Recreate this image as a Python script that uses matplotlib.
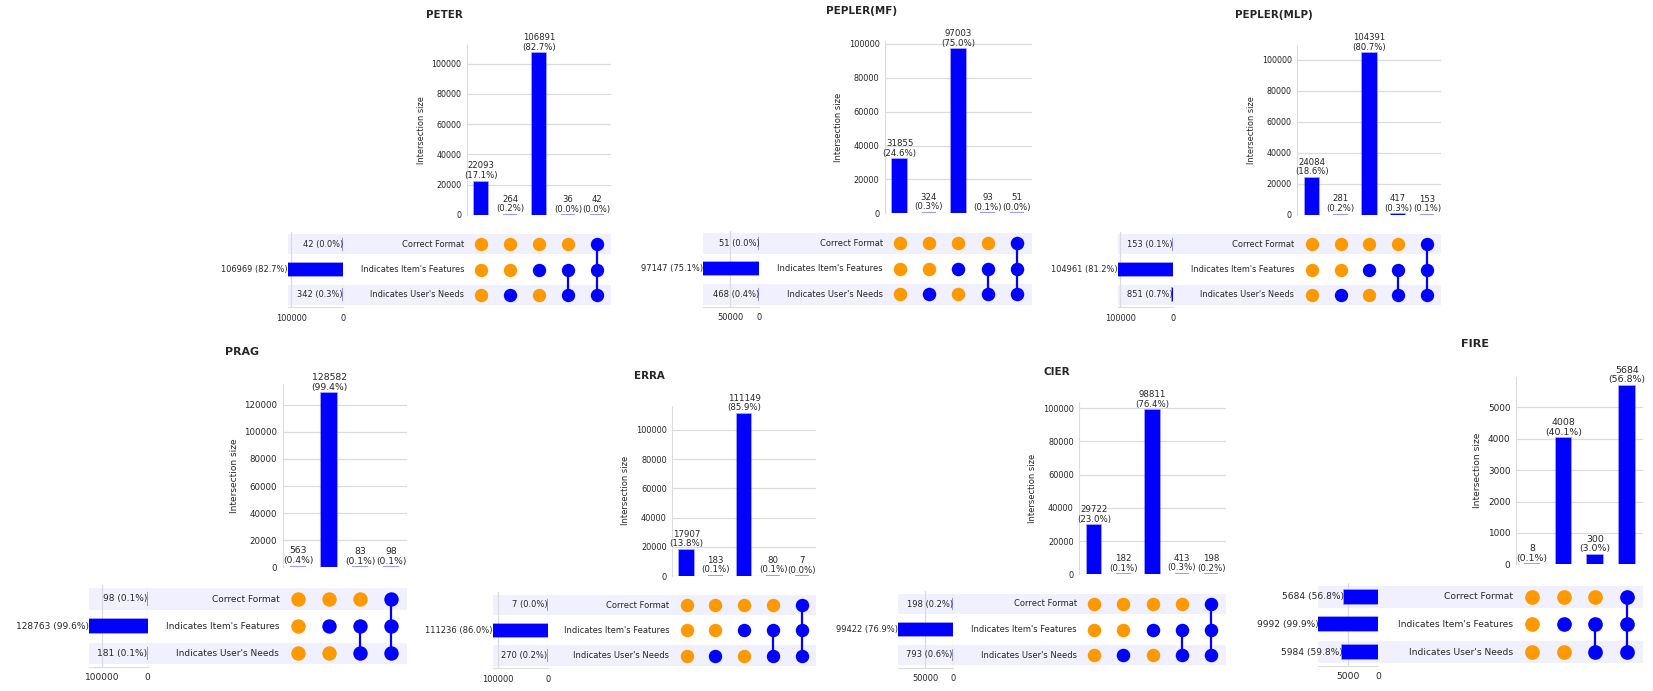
import numpy as np
import matplotlib
matplotlib.use("Agg")
import matplotlib.pyplot as plt
from matplotlib.patches import Rectangle
from matplotlib.transforms import blended_transform_factory

W, H = 1653, 691

set_names = ["Correct Format", "Indicates Item's Features", "Indicates User's Needs"]

# membership of each intersection column (Correct Format, Item's Features, User's Needs)
combos5 = [(0, 0, 0), (0, 0, 1), (0, 1, 0), (0, 1, 1), (1, 1, 1)]
combos4 = [(0, 0, 0), (0, 1, 0), (0, 1, 1), (1, 1, 1)]

models = ["PETER", "PEPLER(MF)", "PEPLER(MLP)", "PRAG", "ERRA", "CIER", "FIRE"]
peter = [22093, 264, 106891, 36, 42]
pepler_mf = [31855, 324, 97003, 93, 51]
pepler_mlp = [24084, 281, 104391, 417, 153]
prag = [563, 128582, 83, 98]
erra = [17907, 183, 111149, 80, 7]
cier = [29722, 182, 98811, 413, 198]
fire = [8, 4008, 300, 5684]
counts = [peter, pepler_mf, pepler_mlp, prag, erra, cier, fire]
combos = [combos5, combos5, combos5, combos4, combos5, combos5, combos4]

ystep = [20000, 20000, 20000, 20000, 20000, 20000, 1000]
total_ticks = [100000, 50000, 100000, 100000, 100000, 50000, 5000]

# pixel layout of each panel:
# bar-axis left, column step, y of zero, axis top, first row y, row step,
# totals left, totals right, label right, title x, title y
layout = [
    (466.7, 28.9, 215.0, 45.0, 244.3, 25.2, 287.7, 343.0, 464.0, 444.0, 15.0),
    (885.0, 29.3, 213.3, 40.7, 243.3, 25.5, 703.3, 759.3, 882.7, 861.7, 11.0),
    (1297.3, 28.8, 215.0, 45.0, 244.3, 25.2, 1117.7, 1172.7, 1294.0, 1274.0, 15.0),
    (282.7, 31.0, 567.3, 384.4, 599.0, 27.2, 89.0, 147.7, 279.3, 242.3, 352.3),
    (672.3, 28.8, 576.0, 405.6, 605.0, 25.3, 492.7, 547.7, 669.3, 649.3, 376.0),
    (1079.3, 29.3, 574.3, 402.0, 604.0, 25.5, 897.7, 953.3, 1076.7, 1056.7, 371.7),
    (1516.0, 31.7, 564.3, 376.9, 596.7, 27.7, 1318.3, 1378.3, 1512.7, 1475.0, 344.0),
]

BLUE = "#0000ff"
EDGE = (0.0, 0.0, 1.0, 0.5)
ORANGE = "#ff9900"
GRID = "#dcdcdc"
TXT = "#262626"
SHADE = "#f0f0ff"


def rect(left, top, right, bottom):
    return [left / W, 1 - bottom / H, (right - left) / W, (bottom - top) / H]


fig = plt.figure(figsize=(W / 100, H / 100), dpi=100)

for name, vals, comb, ys, tt, lay in zip(models, counts, combos, ystep, total_ticks, layout):
    bl, cs, y0, ytop, r0, rs, tl, tr, lx, tx, ty = lay
    n = len(vals)
    vals = np.array(vals)
    memb = np.array(comb).T  # rows x columns
    totals = (memb * vals).sum(axis=1)
    N = vals.sum()
    br = bl + n * cs
    mtop = r0 - rs / 2
    mbot = r0 + 2.5 * rs
    fs = 6.0 * rs / 25.3

    # shading bands
    axs = fig.add_axes(rect(tl, mtop, br, mbot))
    axs.set_xlim(0, 1)
    axs.set_ylim(2.5, -0.5)
    axs.axis("off")
    for i in range(0, 3, 2):
        axs.add_patch(Rectangle((0, i - 0.4), 1, 0.8, facecolor=SHADE, lw=0, zorder=0))

    # totals
    axt = fig.add_axes(rect(tl, mtop, tr, mbot))
    axt.patch.set_alpha(0)
    axt.barh(range(3), totals, height=0.5, color=BLUE, edgecolor=EDGE, lw=1.1, zorder=3)
    axt.set_xlim(totals.max(), 0)
    axt.set_ylim(2.5, -0.5)
    axt.set_xticks([tt, 0])
    axt.set_yticks([])
    axt.grid(axis="x", color=GRID, lw=0.9, zorder=0)
    for s in ["top", "left", "right"]:
        axt.spines[s].set_visible(False)
    axt.spines["bottom"].set_color(GRID)
    axt.tick_params(axis="x", length=0, labelsize=fs, labelcolor=TXT, pad=4.5)
    for i, t in enumerate(totals):
        axt.text(t, i, f"{t} ({t / N * 100:.1f}%)", ha="right", va="center",
                 fontsize=fs, color=TXT, zorder=4)

    # matrix
    axm = fig.add_axes(rect(bl, mtop, br, mbot))
    axm.patch.set_alpha(0)
    axm.set_xlim(-0.5, n - 0.5)
    axm.set_ylim(2.5, -0.5)
    axm.axis("off")
    dot = 0.53 * rs * 0.72
    for j in range(n):
        on = np.where(memb[:, j] == 1)[0]
        off = np.where(memb[:, j] == 0)[0]
        if len(on) > 1:
            axm.plot([j, j], [on.min(), on.max()], color=BLUE, lw=1.6, zorder=2)
        axm.plot([j] * len(on), on, "o", ms=dot, color=BLUE, mew=0, zorder=3)
        axm.plot([j] * len(off), off, "o", ms=dot, color=ORANGE, mew=0, zorder=3)
    tr_lab = blended_transform_factory(fig.transFigure, axm.transData)
    for i, s in enumerate(set_names):
        axm.text(lx / W, i, s, transform=tr_lab, ha="right", va="center",
                 fontsize=fs, color=TXT)

    # intersection sizes
    axb = fig.add_axes(rect(bl, ytop, br, y0))
    axb.bar(range(n), vals, width=0.5, color=BLUE, edgecolor=EDGE, lw=1.1, zorder=3)
    axb.set_xlim(-0.5, n - 0.5)
    axb.set_ylim(0, vals.max() * 1.05)
    axb.yaxis.set_major_locator(plt.MultipleLocator(ys))
    axb.set_xticks([])
    axb.grid(axis="y", color=GRID, lw=0.9, zorder=0)
    for s in ["top", "right", "bottom"]:
        axb.spines[s].set_visible(False)
    axb.spines["left"].set_color(GRID)
    axb.tick_params(axis="y", length=0, labelsize=fs * 0.97, labelcolor=TXT, pad=4)
    axb.set_ylabel("Intersection size", fontsize=fs, color=TXT)
    for j, v in enumerate(vals):
        axb.annotate(f"{v}\n({v / N * 100:.1f}%)", (j, v), xytext=(0, 1),
                     textcoords="offset points", ha="center", va="bottom",
                     fontsize=fs * 1.03, color=TXT, linespacing=1.1, zorder=4)

    fig.text(tx / W, 1 - ty / H, name, ha="center", va="center",
             fontsize=7.4 * rs / 25.3, fontweight="bold", color=TXT)

fig.savefig("out.png", dpi=100)
